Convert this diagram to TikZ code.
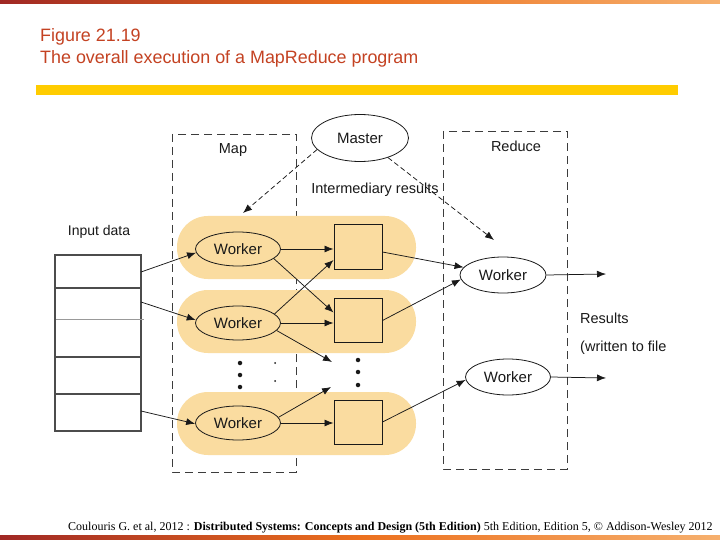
\documentclass[tikz,border=0pt]{standalone}
\usepackage{fontspec}
\setmainfont{Liberation Sans}
\newfontfamily\citefont{Liberation Serif}
\usetikzlibrary{arrows.meta,shapes.geometric,calc}
\definecolor{titlered}{RGB}{196,66,34}
\definecolor{bandfill}{RGB}{250,220,160}
\definecolor{yellowbar}{RGB}{255,204,0}
\definecolor{ink}{RGB}{25,25,25}
\definecolor{gdark}{RGB}{160,40,36}
\definecolor{gmid}{RGB}{236,112,30}
\definecolor{glight}{RGB}{246,176,110}
\tikzset{
  lbl/.style={font=\fontsize{14.5}{17}\selectfont, text=ink, inner sep=0pt},
  band/.style={fill=bandfill, draw=none, rounded corners=31pt, minimum width=239pt, minimum height=63pt, inner sep=0pt},
  wk/.style={ellipse, draw=ink, line width=0.8pt, inner sep=0pt, font=\fontsize{15}{17}\selectfont, text=ink},
  sq/.style={rectangle, draw=ink, line width=1pt, fill=bandfill, minimum width=48pt, minimum height=44pt, inner sep=0pt},
  arr/.style={draw=ink, line width=0.75pt, -{Latex[length=9pt,width=7pt]}},
  darr/.style={arr, dash pattern=on 5pt off 3pt},
  dbox/.style={draw=ink!85, line width=0.8pt, dash pattern=on 8pt off 5pt},
  cell/.style={draw=black!70, line width=1.2pt},
  dotn/.style={circle, fill=ink, inner sep=0pt, minimum size=4.5pt},
  sdot/.style={circle, fill=ink, inner sep=0pt, minimum size=2pt}
}
\begin{document}
\begin{tikzpicture}[x=1pt,y=-1pt]
\useasboundingbox (0,0) rectangle (720,540);
\fill[white] (0,0) rectangle (720,540);
% top and bottom gradient bars
\shade[left color=gdark, right color=glight, middle color=gmid] (0,0) rectangle (720,3.5);
\shade[left color=gdark, right color=glight, middle color=gmid] (0,535.5) rectangle (720,540);
% title
\node[anchor=base west, inner sep=0pt, text=titlered, font=\fontsize{17.9}{20}\selectfont] (t1) at (40,42) {Figure 21.19};
\node[anchor=base west, inner sep=0pt, text=titlered, font=\fontsize{17.9}{20}\selectfont] (t2) at (40,64) {The overall execution of a MapReduce program};
\fill[fill=yellowbar] (36,85) rectangle (678,95);

% dashed boxes
\draw[dbox] (172,134) rectangle (296,472);
\draw[dbox] (443,131) rectangle (567,469);
\node[lbl] (maplbl) at (233,150) {Map};
\node[lbl] (redlbl) at (516,146) {Reduce};

% bands
\node[band] (b1) at (296.5,247.5) {};
\node[band] (b2) at (296.5,321.5) {};
\node[band] (b3) at (296.5,423.5) {};

% master
\node[wk, fill=white, minimum width=97pt, minimum height=47pt] (ma) at (360,138) {Master};
\node[lbl] (inter) at (375,190) {Intermediary results};

% map workers
\node[wk, minimum width=85pt, minimum height=34pt] (m1) at (238,249) {Worker};
\node[wk, minimum width=85pt, minimum height=34pt] (m2) at (238,323) {Worker};
\node[wk, minimum width=85pt, minimum height=34pt] (m3) at (238,423) {Worker};

% squares
\node[sq] (s1) at (358,247) {};
\node[sq] (s2) at (358,320.5) {};
\node[sq] (s3) at (358,422) {};

% reduce workers
\node[wk, fill=white, minimum width=86pt, minimum height=36pt] (r1) at (503,275) {Worker};
\node[wk, fill=white, minimum width=85pt, minimum height=36pt] (r2) at (508,377) {Worker};

% results text
\node[lbl, anchor=west] (res) at (580,318) {Results};
\node[lbl, anchor=west] (wtf) at (580,348) {(written to file};

% input data
\node[lbl, font=\fontsize{14}{16}\selectfont] (inlbl) at (99,232) {Input data};
\node[cell, minimum width=86pt, minimum height=33pt, inner sep=0pt] (c1) at (98,271.5) {};
\node[cell, minimum width=86pt, minimum height=69pt, inner sep=0pt] (c2) at (98,322.5) {};
\node[cell, minimum width=86pt, minimum height=37pt, inner sep=0pt] (c3) at (98,375.5) {};
\node[cell, minimum width=86pt, minimum height=37pt, inner sep=0pt] (c4) at (98,412.5) {};
\draw[black!40, line width=0.6pt] ($(c2.west)+(2,-3.5)$) -- ($(c2.east)+(2,-3.5)$);

\coordinate (i1) at (141,272);
\coordinate (i2) at (141,302);
\coordinate (i3) at (141,411);
\draw[arr] (i1) -- (m1.185);
\draw[arr] (i2) -- (m2.176);
\draw[arr] (i3) -- (m3.181);

% master dashed arrows
\coordinate (mt) at (243,213);
\coordinate (rt) at (494,240);
\draw[darr] (ma.195) -- (mt);
\draw[darr] (ma.-35) -- (rt);

% map worker arrows
\coordinate (p1) at (332,362);
\coordinate (p2) at (331,387);
\draw[arr] (m1.east) -- (m1.east -| s1.west);
\draw[arr] (m1.-15) -- ($(s2.west)+(0,-8)$);
\draw[arr] (m2.14) -- ($(s1.west)+(0,13)$);
\draw[arr] (m2.east) -- (m2.east -| s2.west);
\draw[arr] (m2.-11) -- (p1);
\draw[arr] (m3.8) -- (p2);
\draw[arr] (m3.east) -- (m3.east -| s3.west);

% square to reducer arrows
\draw[arr] ($(s1.east)+(0,5)$) -- (r1.169);
\draw[arr] (s2.east) -- (r1.186);
\draw[arr] (s3.east) -- (r2.184);

% outputs
\coordinate (o1) at (606,274);
\coordinate (o2) at (606,378);
\draw[arr] (r1.east) -- (o1);
\draw[arr] (r2.east) -- (o2);

% dots
\node[dotn] (d1) at (240,363) {};
\node[dotn] (d2) at (240,375) {};
\node[dotn] (d3) at (240,387) {};
\node[sdot] (e1) at (275,363) {};
\node[sdot] (e2) at (275,381) {};
\node[dotn] (f1) at (358,360) {};
\node[dotn] (f2) at (358,372) {};
\node[dotn] (f3) at (358,385) {};

% citation
\node[anchor=base west, inner sep=0pt, font=\citefont\fontsize{12}{14}\selectfont] (cite) at (68,530) {Coulouris G. et al, 2012 : \textbf{Distributed Systems: Concepts and Design (5th Edition)} 5th Edition, Edition 5, © Addison-Wesley 2012};
\end{tikzpicture}
\end{document}
